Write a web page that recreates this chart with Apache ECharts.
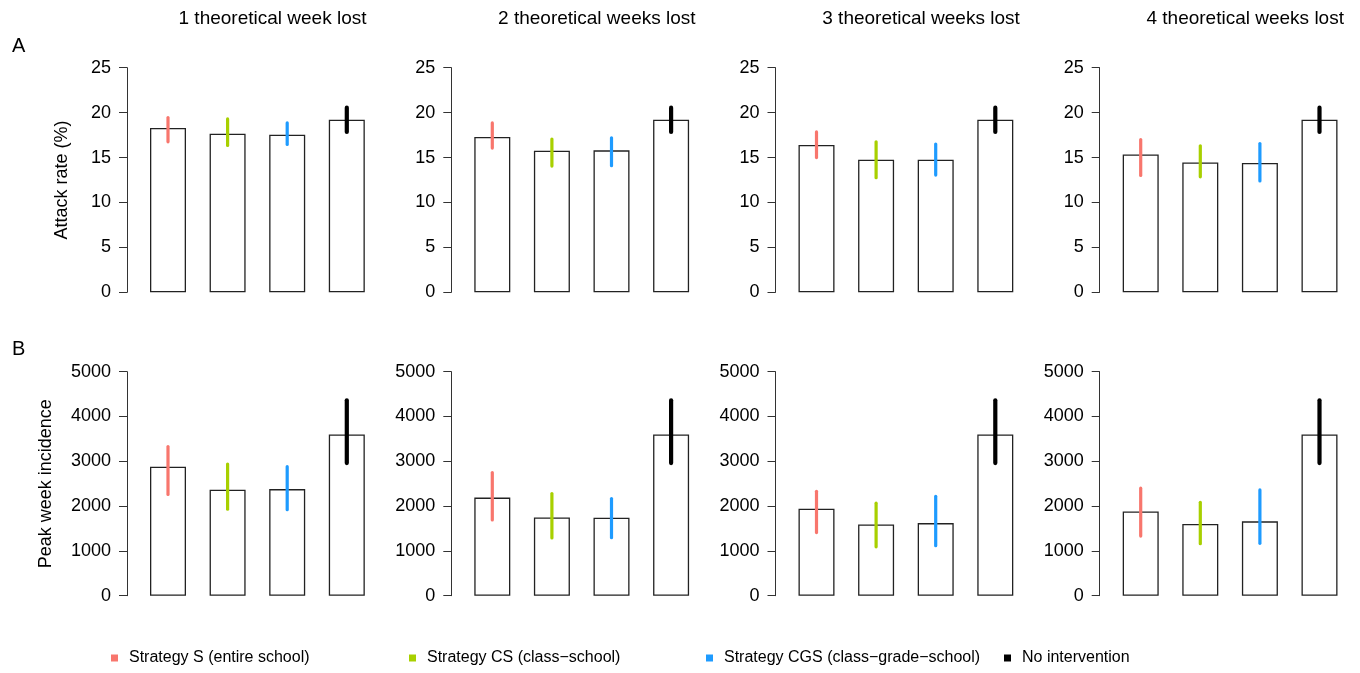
<!DOCTYPE html>
<html>
<head>
<meta charset="utf-8">
<script src="https://cdn.jsdelivr.net/npm/echarts/dist/echarts.min.js"></script>
<style>
html,body{margin:0;padding:0;background:#fff;}
#chart{width:1360px;height:673px;}
</style>
</head>
<body>
<div id="chart"></div>
<script>
// ---- data ----
const categories = ['Strategy S (entire school)', 'Strategy CS (class\u2212school)', 'Strategy CGS (class\u2212grade\u2212school)', 'No intervention'];
const panelTitles = ['1 theoretical week lost', '2 theoretical weeks lost', '3 theoretical weeks lost', '4 theoretical weeks lost'];
const rowLabels = ['A', 'B'];
const rowAxisNames = ['Attack rate (%)', 'Peak week incidence'];

// Attack rate (%) per panel (1..4 weeks lost), per strategy [S, CS, CGS, None]
const attackMean = [[18.3, 17.65, 17.55, 19.2], [17.3, 15.75, 15.8, 19.2], [16.4, 14.75, 14.75, 19.2], [15.35, 14.45, 14.4, 19.2]];
const attackLow  = [[16.75, 16.35, 16.45, 17.85], [16.05, 14.05, 14.1, 17.85], [15.0, 12.75, 13.05, 17.85], [13.0, 12.85, 12.4, 17.85]];
const attackHigh = [[19.45, 19.3, 18.85, 20.55], [18.85, 17.05, 17.2, 20.55], [17.85, 16.75, 16.5, 20.55], [17.0, 16.3, 16.55, 20.55]];

// Peak week incidence
const peakMean = [[2880, 2365, 2380, 3600], [2190, 1745, 1740, 3600], [1940, 1590, 1620, 3600], [1880, 1600, 1660, 3600]];
const peakLow  = [[2260, 1930, 1920, 2960], [1690, 1290, 1295, 2960], [1410, 1090, 1115, 2960], [1330, 1160, 1170, 2960]];
const peakHigh = [[3330, 2940, 2880, 4360], [2750, 2280, 2170, 4360], [2330, 2065, 2220, 4360], [2400, 2085, 2360, 4360]];

const yMax = [25, 5000];
const yInterval = [5, 1000];

// ---- styling / layout ----
const colors = ['#F8766D', '#A8D000', '#1E9BFF', '#000000'];
const errWidth = [3.2, 3.2, 3.2, 4.2];
const FONT = '"Liberation Sans", Arial, Helvetica, sans-serif';
const axisX = [127, 451.3, 775.5, 1099.7];
const AX_OFF = 11.2;
const GRID_W = 238.4;
const rowTop = [67.7, 371.7];
const rowH = [224.6, 224];

const rowData = [[attackMean, attackLow, attackHigh], [peakMean, peakLow, peakHigh]];

const grid = [], xAxis = [], yAxis = [], series = [];
let gi = 0;
for (let r = 0; r < 2; r++) {
  for (let c = 0; c < 4; c++) {
    grid.push({left: axisX[c] + AX_OFF, top: rowTop[r], width: GRID_W, height: rowH[r], containLabel: false});
    xAxis.push({type: 'category', gridIndex: gi, data: categories, show: false});
    yAxis.push({
      type: 'value', gridIndex: gi, min: 0, max: yMax[r], interval: yInterval[r], offset: AX_OFF,
      name: c === 0 ? rowAxisNames[r] : '',
      nameLocation: 'middle', nameGap: r === 0 ? 56 : 72,
      nameTextStyle: {fontFamily: FONT, fontSize: 18, color: '#000'},
      axisLine: {show: true, lineStyle: {color: '#333', width: 1}},
      axisTick: {show: true, inside: false, length: 8, lineStyle: {color: '#333', width: 1}},
      axisLabel: {margin: 16, fontFamily: FONT, fontSize: 18, color: '#000', formatter: v => String(v)},
      splitLine: {show: false}
    });
    const [mean, low, high] = rowData[r];
    series.push({
      type: 'bar', name: 'mean', xAxisIndex: gi, yAxisIndex: gi,
      data: mean[c], barWidth: 36,
      itemStyle: {color: '#fff', borderColor: '#222', borderWidth: 1.3},
      silent: true, z: 2
    });
    for (let k = 0; k < 4; k++) {
      series.push({
        type: 'custom', name: categories[k], xAxisIndex: gi, yAxisIndex: gi, z: 3,
        itemStyle: {color: colors[k]},
        data: [[k, low[c][k], high[c][k]]],
        renderItem: (params, api) => {
          const p1 = api.coord([api.value(0), api.value(1)]);
          const p2 = api.coord([api.value(0), api.value(2)]);
          return {type: 'line', shape: {x1: p1[0], y1: p1[1], x2: p2[0], y2: p2[1]},
                  style: {stroke: colors[k], lineWidth: errWidth[k], lineCap: 'round'}};
        }
      });
    }
    gi++;
  }
}

const legendX = [111, 409, 706, 1004];
const legend = categories.map((name, k) => ({
  data: [{name: name, icon: 'rect'}],
  left: legendX[k], top: 650, padding: 0,
  itemWidth: 7, itemHeight: 7, selectedMode: false,
  textStyle: {fontFamily: FONT, fontSize: 16, color: '#000', padding: [0, 0, 0, 6]}
}));

const graphic = [];
panelTitles.forEach((t, c) => {
  graphic.push({type: 'text', x: axisX[c] + 145.5, y: 19,
    style: {text: t, font: '19px ' + FONT, fill: '#000', textAlign: 'center', textVerticalAlign: 'middle'}});
});
graphic.push({type: 'text', x: 12, y: 46, style: {text: rowLabels[0], font: '20px ' + FONT, fill: '#000', textAlign: 'left', textVerticalAlign: 'middle'}});
graphic.push({type: 'text', x: 12, y: 349, style: {text: rowLabels[1], font: '20px ' + FONT, fill: '#000', textAlign: 'left', textVerticalAlign: 'middle'}});

const chart = echarts.init(document.getElementById('chart'), null, {renderer: 'canvas'});
chart.setOption({
  animation: false,
  backgroundColor: '#fff',
  grid, xAxis, yAxis, series, legend, graphic
});
</script>
</body>
</html>
